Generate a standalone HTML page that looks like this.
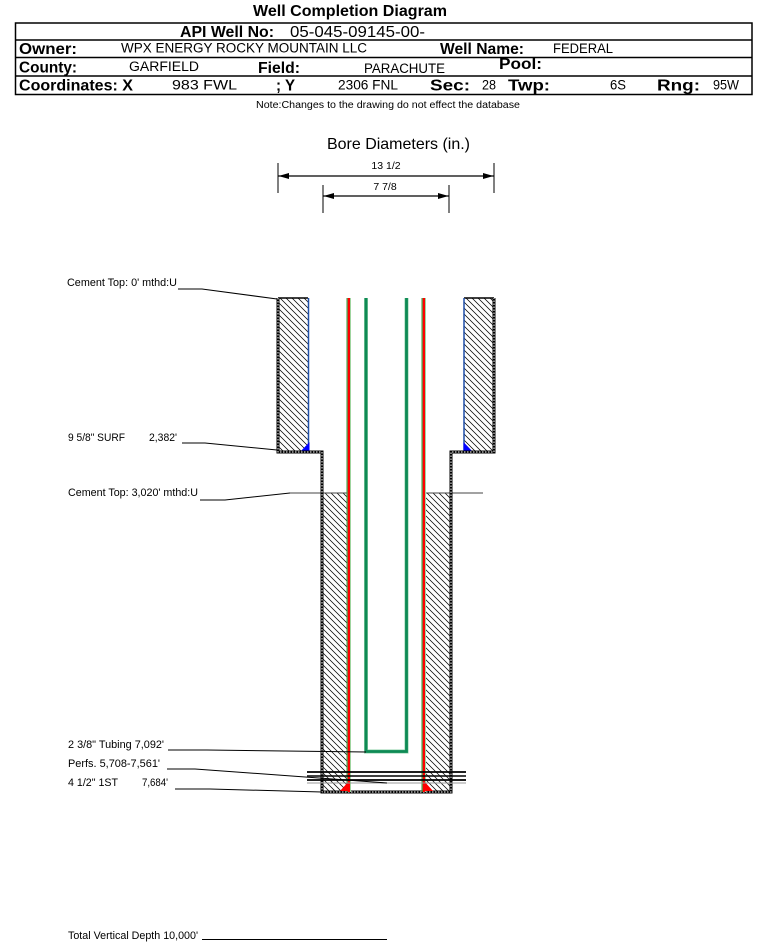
<!DOCTYPE html>
<html><head><meta charset="utf-8"><style>
html,body{margin:0;padding:0;background:#fff;}
svg{display:block;}
text{font-family:"Liberation Sans",Arial,sans-serif;fill:#000;}
.b{font-weight:bold;}
</style></head><body>
<svg width="759" height="943" viewBox="0 0 759 943" xmlns="http://www.w3.org/2000/svg">
<defs>
<pattern id="h" patternUnits="userSpaceOnUse" width="6" height="6">
<path d="M-1,-1 L7,7 M-1,5 L1,7 M5,-1 L7,1" stroke="#000" stroke-width="0.75"/>
</pattern>
</defs>

<!-- Title -->
<text class="b" x="253" y="16" font-size="16" textLength="194" lengthAdjust="spacingAndGlyphs">Well Completion Diagram</text>

<!-- Header table -->
<rect x="15.5" y="23" width="736.5" height="71.5" fill="none" stroke="#000" stroke-width="1.5"/>
<line x1="15.5" y1="40" x2="752" y2="40" stroke="#000" stroke-width="1.5"/>
<line x1="15.5" y1="57.5" x2="752" y2="57.5" stroke="#000" stroke-width="1.5"/>
<line x1="15.5" y1="76" x2="752" y2="76" stroke="#000" stroke-width="1.5"/>

<text class="b" x="180" y="37" font-size="15.5" textLength="94" lengthAdjust="spacingAndGlyphs">API Well No:</text>
<text x="290" y="37" font-size="16" textLength="135" lengthAdjust="spacingAndGlyphs">05-045-09145-00-</text>

<text class="b" x="19" y="54" font-size="16" textLength="58" lengthAdjust="spacingAndGlyphs">Owner:</text>
<text x="121" y="52.5" font-size="13.4" textLength="246" lengthAdjust="spacingAndGlyphs">WPX ENERGY ROCKY MOUNTAIN LLC</text>
<text class="b" x="440" y="54" font-size="16" textLength="84" lengthAdjust="spacingAndGlyphs">Well Name:</text>
<text x="553" y="53" font-size="13.4" textLength="60" lengthAdjust="spacingAndGlyphs">FEDERAL</text>

<text class="b" x="19" y="72.5" font-size="16" textLength="58" lengthAdjust="spacingAndGlyphs">County:</text>
<text x="129" y="71" font-size="13.4" textLength="70" lengthAdjust="spacingAndGlyphs">GARFIELD</text>
<text class="b" x="258" y="73" font-size="16" textLength="42" lengthAdjust="spacingAndGlyphs">Field:</text>
<text x="364" y="73" font-size="13.4" textLength="81" lengthAdjust="spacingAndGlyphs">PARACHUTE</text>
<text class="b" x="499" y="69" font-size="16" textLength="43" lengthAdjust="spacingAndGlyphs">Pool:</text>

<text class="b" x="19" y="90.5" font-size="16" textLength="114" lengthAdjust="spacingAndGlyphs">Coordinates: X</text>
<text x="172" y="89.5" font-size="13.4" textLength="65" lengthAdjust="spacingAndGlyphs">983 FWL</text>
<text class="b" x="276" y="90.5" font-size="16" textLength="19" lengthAdjust="spacingAndGlyphs">; Y</text>
<text x="338" y="89.5" font-size="13.4" textLength="60" lengthAdjust="spacingAndGlyphs">2306 FNL</text>
<text class="b" x="430" y="90.5" font-size="16" textLength="40" lengthAdjust="spacingAndGlyphs">Sec:</text>
<text x="482" y="89.5" font-size="13.4" textLength="14" lengthAdjust="spacingAndGlyphs">28</text>
<text class="b" x="508" y="90.5" font-size="16" textLength="42" lengthAdjust="spacingAndGlyphs">Twp:</text>
<text x="610" y="89.5" font-size="13.4" textLength="16" lengthAdjust="spacingAndGlyphs">6S</text>
<text class="b" x="657" y="90.5" font-size="16" textLength="43" lengthAdjust="spacingAndGlyphs">Rng:</text>
<text x="713" y="89.5" font-size="13.4" textLength="26" lengthAdjust="spacingAndGlyphs">95W</text>

<text x="256" y="108" font-size="10" textLength="264" lengthAdjust="spacingAndGlyphs">Note:Changes to the drawing do not effect the database</text>

<!-- Bore diameters -->
<text x="327" y="149" font-size="16" textLength="143" lengthAdjust="spacingAndGlyphs">Bore Diameters (in.)</text>
<line x1="278" y1="163" x2="278" y2="193" stroke="#000" stroke-width="1"/>
<line x1="494" y1="163" x2="494" y2="193" stroke="#000" stroke-width="1"/>
<line x1="278" y1="176" x2="494" y2="176" stroke="#000" stroke-width="1.2"/>
<polygon points="278.5,176 289,173 289,179" fill="#000"/>
<polygon points="493.5,176 483,173 483,179" fill="#000"/>
<text x="386" y="169" font-size="10.5" text-anchor="middle">13 1/2</text>

<line x1="323" y1="185" x2="323" y2="213" stroke="#000" stroke-width="1"/>
<line x1="449" y1="185" x2="449" y2="213" stroke="#000" stroke-width="1"/>
<line x1="323" y1="196" x2="449" y2="196" stroke="#000" stroke-width="1.2"/>
<polygon points="323.5,196 334,193 334,199" fill="#000"/>
<polygon points="448.5,196 438,193 438,199" fill="#000"/>
<text x="385" y="190" font-size="10.5" text-anchor="middle">7 7/8</text>

<!-- Cement hatch areas -->
<rect x="279" y="298" width="29" height="154" fill="url(#h)"/>
<rect x="464" y="298" width="29" height="154" fill="url(#h)"/>
<rect x="323" y="493" width="24" height="299" fill="url(#h)"/>
<rect x="426" y="493" width="24" height="299" fill="url(#h)"/>

<!-- top edges surface cement -->
<line x1="278" y1="298" x2="308" y2="298" stroke="#000" stroke-width="1.5"/>
<line x1="464" y1="298" x2="494" y2="298" stroke="#000" stroke-width="1.5"/>

<!-- blue lines + triangles -->
<line x1="308.5" y1="298" x2="308.5" y2="452" stroke="#1f4fa8" stroke-width="1.5"/>
<line x1="464" y1="298" x2="464" y2="452" stroke="#1f4fa8" stroke-width="1.5"/>
<polygon points="300,452 309.5,452 309.5,442" fill="#0000ff"/>
<polygon points="463.5,442 463.5,452 473,452" fill="#0000ff"/>

<!-- cement top line 3020 -->
<line x1="290" y1="493" x2="347" y2="493" stroke="#444" stroke-width="1"/>
<line x1="426" y1="493" x2="483" y2="493" stroke="#444" stroke-width="1"/>

<!-- Outer dashed borders -->
<path d="M278,298 L278,452 L322,452 L322,792 L451,792 L451,452 L494,452 L494,298" fill="none" stroke="#000" stroke-width="3"/>
<path d="M278,298 L278,452 L322,452 L322,792 L451,792 L451,452 L494,452 L494,298" fill="none" stroke="#fff" stroke-width="1" stroke-dasharray="1.5,1.5"/>

<!-- Production casing (red) -->
<rect x="346.5" y="298" width="1.2" height="494" fill="#2a9d3a"/>
<rect x="347.7" y="298" width="2.3" height="494" fill="#ff0000"/>
<rect x="350" y="298" width="1" height="494" fill="#9fd49f"/>
<rect x="421.5" y="298" width="1.2" height="494" fill="#2a9d3a"/>
<rect x="422.7" y="298" width="2.3" height="494" fill="#ff0000"/>
<rect x="425" y="298" width="1" height="494" fill="#9fd49f"/>

<!-- Tubing (green) -->
<path d="M366,298 L366,751.5 L406.5,751.5 L406.5,298" fill="none" stroke="#8fd0a8" stroke-width="4"/>
<path d="M366,298 L366,751.5 L406.5,751.5 L406.5,298" fill="none" stroke="#0e8a55" stroke-width="2.8"/>

<!-- red triangles at bottom -->
<polygon points="340,791 349,791 349,781" fill="#ff0000"/>
<polygon points="424,781 424,791 433,791" fill="#ff0000"/>

<!-- Perfs -->
<line x1="307" y1="772" x2="466" y2="772" stroke="#000" stroke-width="1.8"/>
<line x1="307" y1="776" x2="466" y2="776" stroke="#000" stroke-width="1.6"/>
<line x1="307" y1="780" x2="466" y2="780" stroke="#000" stroke-width="1.8"/>
<line x1="307" y1="783" x2="466" y2="783" stroke="#999" stroke-width="1"/>

<!-- Labels & leaders -->
<g font-size="10.7">
<text x="67" y="286" textLength="110" lengthAdjust="spacingAndGlyphs">Cement Top: 0' mthd:U</text>
<polyline points="178,289 202,289 277,299" fill="none" stroke="#000" stroke-width="1"/>

<text x="68" y="441" textLength="57" lengthAdjust="spacingAndGlyphs">9 5/8" SURF</text>
<text x="149" y="441" textLength="28" lengthAdjust="spacingAndGlyphs">2,382'</text>
<polyline points="182,443 205,443 277,450" fill="none" stroke="#000" stroke-width="1"/>

<text x="68" y="496" textLength="130" lengthAdjust="spacingAndGlyphs">Cement Top: 3,020' mthd:U</text>
<polyline points="200,500 225,500 290,493" fill="none" stroke="#000" stroke-width="1"/>

<text x="68" y="748" textLength="96" lengthAdjust="spacingAndGlyphs">2 3/8" Tubing 7,092'</text>
<polyline points="168,750 207,750 366,752" fill="none" stroke="#000" stroke-width="1"/>

<text x="68" y="767" textLength="92" lengthAdjust="spacingAndGlyphs">Perfs. 5,708-7,561'</text>
<polyline points="167,769 195,769 387,783" fill="none" stroke="#000" stroke-width="1"/>

<text x="68" y="786" textLength="50" lengthAdjust="spacingAndGlyphs">4 1/2" 1ST</text>
<text x="142" y="786" textLength="26" lengthAdjust="spacingAndGlyphs">7,684'</text>
<polyline points="175,789 210,789 322,792" fill="none" stroke="#000" stroke-width="1"/>

<text x="68" y="939" textLength="130" lengthAdjust="spacingAndGlyphs">Total Vertical Depth 10,000'</text>
<line x1="202" y1="939.5" x2="387" y2="939.5" stroke="#000" stroke-width="1"/>
</g>
</svg>
</body></html>
